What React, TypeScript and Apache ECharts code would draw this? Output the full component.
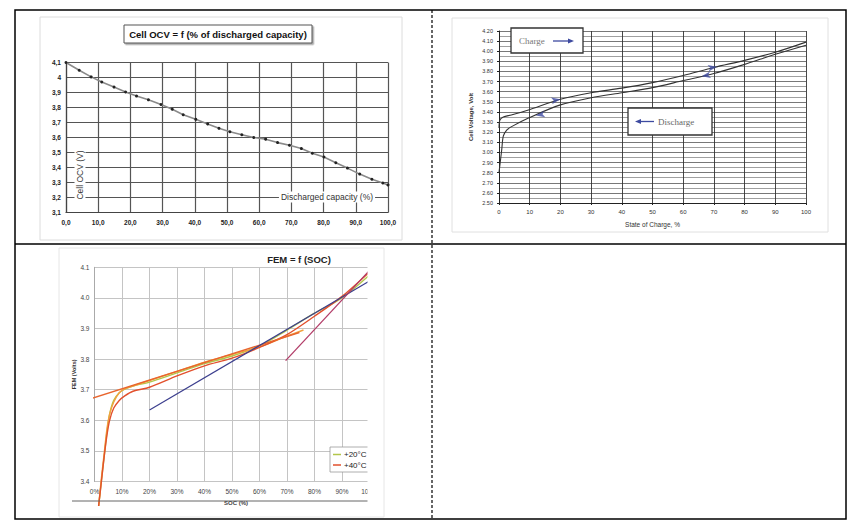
import React, { useEffect, useRef } from "react";
import * as echarts from "echarts";

// ---- Chart 1: Cell OCV = f(% of discharged capacity)
const capPct = [0, 4.1, 7.8, 11.1, 14.9, 18.5, 21.9, 25.6, 29.5, 33.0, 36.4, 40.3, 44.0, 47.5, 50.9, 54.6, 58.3, 62.0, 65.7, 69.4, 73.1, 76.5, 80.1, 83.8, 87.4, 91.2, 95.0, 98.4, 100];
const ocvV = [4.1, 4.048, 4.004, 3.97, 3.936, 3.903, 3.876, 3.851, 3.82, 3.788, 3.752, 3.721, 3.69, 3.661, 3.638, 3.618, 3.6, 3.589, 3.566, 3.548, 3.526, 3.495, 3.47, 3.432, 3.396, 3.356, 3.322, 3.297, 3.284];

// ---- Chart 2: Cell voltage vs state of charge
const chargeSoc = [0, 0.3, 1.4, 4, 9.6, 20, 30, 40, 50, 60, 70, 80, 90, 100];
const chargeV = [3.24, 3.32, 3.35, 3.37, 3.42, 3.525, 3.59, 3.635, 3.69, 3.76, 3.84, 3.91, 3.99, 4.09];
const dischargeSoc = [0, 0.9, 1.4, 2.5, 4.1, 9.6, 20, 30, 40, 50, 60, 70, 80, 90, 100];
const dischargeV = [2.8, 3.03, 3.16, 3.22, 3.255, 3.34, 3.47, 3.54, 3.59, 3.64, 3.71, 3.78, 3.87, 3.97, 4.06];
const chargeArrows = [[20, 3.525], [71, 3.847]];
const dischargeArrows = [[12, 3.365], [66, 3.752]];

// ---- Chart 3: FEM = f(SOC)
const socS = [1.5, 2.5, 3.5, 4.5, 5.5, 7, 9, 11, 14, 20, 30, 40, 50, 60, 70, 80, 90, 100];
const fem20 = [3.32, 3.4, 3.48, 3.56, 3.62, 3.665, 3.69, 3.702, 3.712, 3.725, 3.755, 3.785, 3.81, 3.843, 3.895, 3.95, 4.0, 4.075];
const fem40 = [3.32, 3.4, 3.48, 3.55, 3.6, 3.64, 3.665, 3.68, 3.695, 3.708, 3.745, 3.778, 3.803, 3.838, 3.88, 3.94, 4.005, 4.085];
const socB = [1.5, 2.5, 3.5, 4.5, 5.5, 7, 9, 11, 14, 20, 30, 40, 50, 60, 70, 76];
const femB = [3.32, 3.41, 3.49, 3.57, 3.62, 3.66, 3.69, 3.703, 3.712, 3.73, 3.76, 3.79, 3.815, 3.84, 3.875, 3.895];
const tangentA = [[-1.5, 3.67], [74.5, 3.887]];
const tangentB = [[20, 3.634], [100, 4.055]];
const tangentC = [[69.5, 3.795], [100, 4.09]];

const zip = (xs: number[], ys: number[]) => xs.map((x, i) => [x, ys[i]]);
const SANS = "Liberation Sans, Arial, sans-serif";
const SERIF = "Liberation Serif, Times New Roman, serif";

export default function App() {
  const ref = useRef<HTMLDivElement>(null);
  useEffect(() => {
    if (!ref.current) return;
    const chart = echarts.init(ref.current, undefined, { renderer: "svg" });
    const g1Split = { show: true, lineStyle: { color: "#555", width: 1.2 } };
    const g2Split = { show: true, lineStyle: { color: "#555", width: 0.8 } };
    const g3Split = { show: true, lineStyle: { color: "#c4c4c4", width: 1 } };
    chart.setOption({
      animation: false,
      backgroundColor: "#fff",
      grid: [
        { left: 66, top: 62.5, width: 322, height: 150 },
        { left: 499, top: 31, width: 307, height: 172 },
        { left: 94.5, top: 267.3, width: 275, height: 214.2 },
      ],
      xAxis: [
        {
          gridIndex: 0, type: "value", min: 0, max: 100, interval: 10,
          axisLine: { show: true, lineStyle: { color: "#444", width: 1.2 } },
          axisTick: { show: false }, splitLine: g1Split,
          axisLabel: { fontSize: 6.5, fontWeight: "bold", color: "#222", margin: 6, fontFamily: SANS, formatter: (v: number) => v.toFixed(1).replace(".", ",") },
        },
        {
          gridIndex: 1, type: "value", min: 0, max: 100, interval: 10,
          axisLine: { show: true, lineStyle: { color: "#222", width: 1 } },
          axisTick: { show: true, length: 2, lineStyle: { color: "#222" } }, splitLine: { show: true, lineStyle: { color: "#333", width: 0.9 } },
          axisLabel: { fontSize: 6, color: "#333", margin: 6, fontFamily: SANS },
          name: "State of Charge, %", nameLocation: "middle", nameGap: 18,
          nameTextStyle: { fontSize: 6.5, color: "#333", fontFamily: SANS },
        },
        {
          gridIndex: 2, type: "value", min: 0, max: 100, interval: 10,
          axisLine: { show: false }, axisTick: { show: false }, splitLine: g3Split,
          axisLabel: { fontSize: 6.5, color: "#444", margin: 6, fontFamily: SANS, formatter: (v: number) => v + "%" },
        },
      ],
      yAxis: [
        {
          gridIndex: 0, type: "value", min: 3.1, max: 4.1, interval: 0.1,
          axisLine: { show: true, lineStyle: { color: "#444", width: 1.2 } },
          axisTick: { show: false }, splitLine: g1Split,
          axisLabel: { fontSize: 6.5, fontWeight: "bold", color: "#222", margin: 5, fontFamily: SANS, formatter: (v: number) => String(Number(v.toFixed(1))).replace(".", ",") },
        },
        {
          gridIndex: 1, type: "value", min: 2.5, max: 4.2, interval: 0.1,
          axisLine: { show: true, lineStyle: { color: "#222", width: 1 } },
          axisTick: { show: true, length: 2, lineStyle: { color: "#222" } }, splitLine: g2Split,
          minorTick: { show: false, splitNumber: 2 },
          minorSplitLine: { show: true, lineStyle: { color: "#777", width: 0.7 } },
          axisLabel: { fontSize: 5.5, color: "#333", margin: 6, fontFamily: SANS, formatter: (v: number) => v.toFixed(2) },
          name: "Cell Voltage, Volt", nameLocation: "middle", nameGap: 25,
          nameTextStyle: { fontSize: 6, color: "#333", fontWeight: "bold", fontFamily: SANS },
        },
        {
          gridIndex: 2, type: "value", min: 3.4, max: 4.1, interval: 0.1,
          axisLine: { show: true, lineStyle: { color: "#aaa", width: 1 } },
          axisTick: { show: false }, splitLine: g3Split,
          axisLabel: { fontSize: 6.5, color: "#444", margin: 5, fontFamily: SANS, formatter: (v: number) => v.toFixed(1) },
          name: "FEM (Volts)", nameLocation: "middle", nameGap: 18,
          nameTextStyle: { fontSize: 5.5, color: "#333", fontWeight: "bold", fontFamily: SANS },
        },
      ],
      series: [
        {
          type: "line", xAxisIndex: 0, yAxisIndex: 0, data: zip(capPct, ocvV),
          lineStyle: { color: "#8a8a8a", width: 1.6 }, symbol: "circle", symbolSize: 3,
          itemStyle: { color: "#222" }, z: 5,
        },
        {
          type: "line", xAxisIndex: 1, yAxisIndex: 1, data: zip(chargeSoc, chargeV), smooth: 0.3,
          lineStyle: { color: "#333", width: 1.1 }, symbol: "none", z: 5,
        },
        {
          type: "line", xAxisIndex: 1, yAxisIndex: 1, data: zip(dischargeSoc, dischargeV), smooth: 0.3,
          lineStyle: { color: "#333", width: 1.1 }, symbol: "none", z: 5,
        },
        {
          type: "scatter", xAxisIndex: 1, yAxisIndex: 1, data: chargeArrows,
          symbol: "arrow", symbolSize: [5, 9], symbolRotate: -80, itemStyle: { color: "#3d4aa0" }, z: 6,
        },
        {
          type: "scatter", xAxisIndex: 1, yAxisIndex: 1, data: dischargeArrows,
          symbol: "arrow", symbolSize: [5, 9], symbolRotate: 100, itemStyle: { color: "#3d4aa0" }, z: 6,
        },
        {
          name: "+20°C", type: "line", xAxisIndex: 2, yAxisIndex: 2, data: zip(socS, fem20), smooth: 0.3, clip: false,
          lineStyle: { color: "#b3c64a", width: 1.4 }, symbol: "none", z: 5,
        },
        {
          type: "line", xAxisIndex: 2, yAxisIndex: 2, data: zip(socB, femB), smooth: 0.3, clip: false,
          lineStyle: { color: "#f2a13e", width: 1.4 }, symbol: "none", z: 5,
        },
        {
          name: "+40°C", type: "line", xAxisIndex: 2, yAxisIndex: 2, data: zip(socS, fem40), smooth: 0.3, clip: false,
          lineStyle: { color: "#e2502c", width: 1.4 }, symbol: "none", z: 5,
        },
        {
          type: "line", xAxisIndex: 2, yAxisIndex: 2, data: tangentA, clip: false,
          lineStyle: { color: "#e8652e", width: 1.4 }, symbol: "none", z: 5,
        },
        {
          type: "line", xAxisIndex: 2, yAxisIndex: 2, data: tangentB, clip: false,
          lineStyle: { color: "#3c3f8e", width: 1.2 }, symbol: "none", z: 5,
        },
        {
          type: "line", xAxisIndex: 2, yAxisIndex: 2, data: tangentC, clip: false,
          lineStyle: { color: "#b23c68", width: 1.3 }, symbol: "none", z: 5,
        },
      ],
      graphic: [
        // chart frames
        { type: "rect", shape: { x: 40, y: 17, width: 362, height: 223 }, style: { fill: "none", stroke: "#dcdcdc", lineWidth: 1 }, z: 1 },
        { type: "rect", shape: { x: 452, y: 18, width: 376, height: 214 }, style: { fill: "none", stroke: "#e0e0e0", lineWidth: 1 }, z: 1 },
        { type: "rect", shape: { x: 59, y: 248, width: 325, height: 269 }, style: { fill: "none", stroke: "#e6e6e6", lineWidth: 1 }, z: 1 },
        // chart 1 title
        {
          type: "rect", shape: { x: 124, y: 25, width: 188, height: 18 }, z: 50,
          style: { fill: "#fff", stroke: "#555", lineWidth: 1, shadowColor: "rgba(0,0,0,0.35)", shadowOffsetX: 1.5, shadowOffsetY: 1.5, shadowBlur: 1 },
        },
        {
          type: "text", x: 218, y: 34.5, z: 51,
          style: { text: "Cell OCV = f (% of discharged capacity)", fontSize: 9.5, fontWeight: "bold", fontFamily: SANS, fill: "#111", align: "center", verticalAlign: "middle" },
        },
        {
          type: "text", x: 80, y: 175, rotation: Math.PI / 2, z: 20,
          style: { text: "Cell OCV (V)", fontSize: 8.5, fontFamily: SANS, fill: "#333", align: "center", verticalAlign: "middle", backgroundColor: "#fff", padding: [1, 2] },
        },
        {
          type: "text", x: 327, y: 197, z: 20,
          style: { text: "Discharged capacity (%)", fontSize: 8.5, fontFamily: SANS, fill: "#333", align: "center", verticalAlign: "middle", backgroundColor: "#fff", padding: [1, 2] },
        },
        // chart 2 boxes
        {
          type: "rect", shape: { x: 511, y: 28, width: 72, height: 25 }, z: 50,
          style: { fill: "#fff", stroke: "#333", lineWidth: 1.3 },
        },
        {
          type: "text", x: 519, y: 41, z: 51,
          style: { text: "Charge", fontSize: 9, fontFamily: SERIF, fill: "#777", align: "left", verticalAlign: "middle" },
        },
        { type: "line", shape: { x1: 553, y1: 41, x2: 570, y2: 41 }, style: { stroke: "#3d4aa0", lineWidth: 1.3 }, z: 51 },
        { type: "polygon", shape: { points: [[574, 41], [568, 38.5], [568, 43.5]] }, style: { fill: "#3d4aa0" }, z: 51 },
        {
          type: "rect", shape: { x: 628, y: 108, width: 84, height: 27 }, z: 50,
          style: { fill: "#fff", stroke: "#333", lineWidth: 1.3 },
        },
        { type: "line", shape: { x1: 639, y1: 121.5, x2: 654, y2: 121.5 }, style: { stroke: "#3d4aa0", lineWidth: 1.3 }, z: 51 },
        { type: "polygon", shape: { points: [[635, 121.5], [641, 119], [641, 124]] }, style: { fill: "#3d4aa0" }, z: 51 },
        {
          type: "text", x: 658, y: 121.5, z: 51,
          style: { text: "Discharge", fontSize: 9, fontFamily: SERIF, fill: "#666", align: "left", verticalAlign: "middle" },
        },
        // chart 3 extras
        {
          type: "text", x: 299, y: 259, z: 20,
          style: { text: "FEM = f (SOC)", fontSize: 9.5, fontWeight: "bold", fontFamily: SANS, fill: "#222", align: "center", verticalAlign: "middle" },
        },
        { type: "line", shape: { x1: 72, y1: 501, x2: 368, y2: 501 }, style: { stroke: "#666", lineWidth: 1 }, z: 20 },
        {
          type: "text", x: 236, y: 503, z: 21,
          style: { text: "SOC (%)", fontSize: 6, fontWeight: "bold", fontFamily: SANS, fill: "#444", align: "center", verticalAlign: "middle" },
        },
        {
          type: "rect", shape: { x: 330, y: 447, width: 45, height: 25 }, z: 30,
          style: { fill: "#fff", stroke: "#999", lineWidth: 0.8 },
        },
        { type: "line", shape: { x1: 333, y1: 454.5, x2: 341, y2: 454.5 }, style: { stroke: "#b3c64a", lineWidth: 1.5 }, z: 31 },
        {
          type: "text", x: 344, y: 454.5, z: 31,
          style: { text: "+20°C", fontSize: 8, fontFamily: SANS, fill: "#222", align: "left", verticalAlign: "middle" },
        },
        { type: "line", shape: { x1: 333, y1: 465, x2: 341, y2: 465 }, style: { stroke: "#e2502c", lineWidth: 1.5 }, z: 31 },
        {
          type: "text", x: 344, y: 465, z: 31,
          style: { text: "+40°C", fontSize: 8, fontFamily: SANS, fill: "#222", align: "left", verticalAlign: "middle" },
        },
        // crop of chart 3's right edge
        { type: "rect", shape: { x: 367.5, y: 252, width: 15.5, height: 264 }, style: { fill: "#fff" }, z: 90 },
        // table
        { type: "rect", shape: { x: 15, y: 10, width: 831, height: 509 }, style: { fill: "none", stroke: "#000", lineWidth: 1.5 }, z: 100 },
        { type: "line", shape: { x1: 15, y1: 244, x2: 846, y2: 244 }, style: { stroke: "#000", lineWidth: 1.5 }, z: 100 },
        { type: "line", shape: { x1: 432, y1: 10, x2: 432, y2: 519 }, style: { stroke: "#000", lineWidth: 1.2, lineDash: [3, 2] }, z: 100 },
      ],
    });
    return () => chart.dispose();
  }, []);
  return <div ref={ref} style={{ position: "absolute", left: 0, top: 0, width: 860, height: 531 }} />;
}
